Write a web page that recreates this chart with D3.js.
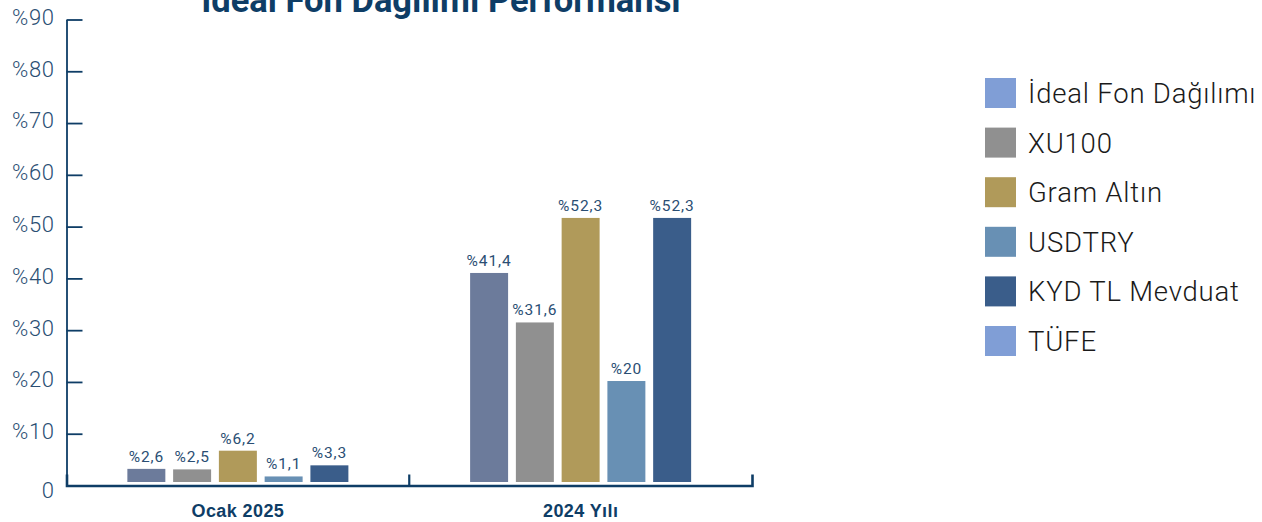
<!DOCTYPE html>
<html>
<head>
<meta charset="utf-8">
<script src="https://cdn.jsdelivr.net/npm/d3@7"></script>
<style>
    body { margin:0; background:#ffffff; }
    svg { display:block; font-family: Roboto, "Noto Sans", sans-serif; }
    .title { font-weight:700; fill:#0e3d66; }
    .yaxis text { fill:#2a4e73; font-size:22px; font-weight:300; letter-spacing:0.6px; }
    .xaxis text { fill:#0e3d66; font-size:18px; font-weight:700; letter-spacing:0.4px; }
    .vlabel { fill:#2a4e73; font-size:15.5px; font-weight:400; letter-spacing:0.9px; }
    .legend text { fill:#1a1a1a; font-size:27.5px; font-weight:300; letter-spacing:0.8px; }
</style>
</head>
<body>
<svg id="chart"></svg>
<script>
var categories = ["Ocak 2025", "2024 Yılı"];
var seriesNames = ["İdeal Fon Dağılımı", "XU100", "Gram Altın", "USDTRY", "KYD TL Mevduat"];
var ocak2025 = [2.6, 2.5, 6.2, 1.1, 3.3];
var yil2024 = [41.4, 31.6, 52.3, 20, 52.3];
var valueLabels = [["%2,6", "%2,5", "%6,2", "%1,1", "%3,3"], ["%41,4", "%31,6", "%52,3", "%20", "%52,3"]];
var barColors = ["#6c7b9b", "#909090", "#b09a5a", "#6890b4", "#3a5d8a"];
var legendNames = ["İdeal Fon Dağılımı", "XU100", "Gram Altın", "USDTRY", "KYD TL Mevduat", "TÜFE"];
var legendColors = ["#809ed6", "#909090", "#b09a5a", "#6890b4", "#3a5d8a", "#809ed6"];
var yTicks = [0, 10, 20, 30, 40, 50, 60, 70, 80, 90];

var drawChart = function(target)
{
    var screen = {width:1262, height:522};
    var plot = {left:66.5, right:752, top:19.5, bottom:485.5};

    var svg = d3.select(target)
        .attr("width", screen.width)
        .attr("height", screen.height);

    var xScale = d3.scaleBand()
        .domain(categories)
        .range([plot.left, plot.right]);

    var innerScale = d3.scaleBand()
        .domain(d3.range(seriesNames.length))
        .range([0, xScale.bandwidth()])
        .paddingInner(0.17)
        .paddingOuter(1.33);

    var yScale = d3.scaleLinear()
        .domain([0, 90])
        .range([plot.bottom, plot.top]);

    // bars sit a little above the axis line, on their own scale
    var barScale = d3.scaleLinear()
        .domain([0, 91.6])
        .range([plot.bottom - 3.5, plot.top]);

    // title, cut by the top edge like the original
    svg.append("text")
        .classed("title", true)
        .attr("x", 441)
        .attr("y", 12)
        .attr("text-anchor", "middle")
        .style("font-size", "34.5px")
        .text("İdeal Fon Dağılımı Performansı");

    // y axis with ticks pointing into the plot
    var yAxis = d3.axisLeft(yScale)
        .tickValues(yTicks)
        .tickSize(-16)
        .tickSizeOuter(0)
        .tickPadding(12)
        .tickFormat(function(d) { return d == 0 ? "0" : "%" + d; });

    var yG = svg.append("g")
        .classed("yaxis", true)
        .attr("transform", "translate(" + plot.left + ",0)")
        .call(yAxis);
    yG.select(".domain").attr("stroke", "#0e3d66").attr("stroke-width", 1.8);
    yG.selectAll(".tick line").attr("stroke", "#0e3d66").attr("stroke-width", 1.8);
    yG.selectAll(".tick text")
        .attr("dy", function(d) { return d == 0 ? "0.55em" : "0.22em"; })
        .style("font-family", "Roboto, sans-serif");

    // bars
    var data = [ocak2025, yil2024];
    var groups = svg.append("g")
        .selectAll("g")
        .data(data)
        .enter()
        .append("g")
        .attr("transform", function(d, i) { return "translate(" + xScale(categories[i]) + ",0)"; });

    groups.selectAll("rect")
        .data(function(d) { return d; })
        .enter()
        .append("rect")
        .attr("x", function(d, j) { return innerScale(j); })
        .attr("y", function(d) { return barScale(d); })
        .attr("width", innerScale.bandwidth())
        .attr("height", function(d) { return barScale(0) - barScale(d); })
        .attr("fill", function(d, j) { return barColors[j]; });

    groups.selectAll("text")
        .data(function(d, i) { return d.map(function(v, j) { return {v:v, label:valueLabels[i][j]}; }); })
        .enter()
        .append("text")
        .classed("vlabel", true)
        .attr("x", function(d, j) { return innerScale(j) + innerScale.bandwidth() / 2; })
        .attr("y", function(d) { return barScale(d.v) - 7; })
        .attr("text-anchor", "middle")
        .text(function(d) { return d.label; });

    // x axis, outer ticks point up
    var xAxis = d3.axisBottom(xScale)
        .tickSize(0)
        .tickSizeOuter(-11)
        .tickPadding(16);

    var xG = svg.append("g")
        .classed("xaxis", true)
        .attr("transform", "translate(0," + plot.bottom + ")")
        .call(xAxis);
    xG.select(".domain").attr("stroke", "#0e3d66").attr("stroke-width", 2.6);
    xG.selectAll(".tick text").attr("dy", "0.85em");

    xG.selectAll(".divider")
        .data(categories.slice(1))
        .enter()
        .append("line")
        .classed("divider", true)
        .attr("x1", function(d) { return xScale(d); })
        .attr("x2", function(d) { return xScale(d); })
        .attr("y1", 0)
        .attr("y2", -11)
        .attr("stroke", "#0e3d66")
        .attr("stroke-width", 2.2);

    // legend
    var legend = svg.append("g")
        .classed("legend", true)
        .attr("transform", "translate(985,78)");

    var items = legend.selectAll("g")
        .data(legendNames)
        .enter()
        .append("g")
        .attr("transform", function(d, i) { return "translate(0," + (i * 49.6) + ")"; });

    items.append("rect")
        .attr("width", 31)
        .attr("height", 30)
        .attr("fill", function(d, i) { return legendColors[i]; });

    items.append("text")
        .attr("x", 43)
        .attr("y", 25)
        .text(function(d) { return d; });
}

drawChart("#chart");
</script>
</body>
</html>
